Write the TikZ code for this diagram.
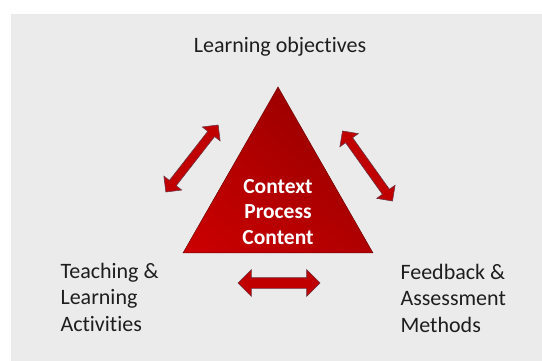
\documentclass[tikz,border=0pt]{standalone}
\usepackage{fontspec}
\setmainfont{Carlito}[Ligatures=CommonOff]
\usetikzlibrary{shapes.arrows,shadings}
\definecolor{bgGrey}{HTML}{EBEBEB}
\definecolor{darkRed}{HTML}{8C0000}
\definecolor{midRed}{HTML}{B00000}
\definecolor{brightRed}{HTML}{CC0000}
\definecolor{arrowRed}{HTML}{C00000}
\definecolor{arrowEdge}{HTML}{6E3445}
\definecolor{textGrey}{HTML}{1E1E1E}

\begin{document}
\begin{tikzpicture}[x=1pt,y=-1pt]

      \tikzset{dblarrow/.style={double arrow, draw=arrowEdge, fill=arrowRed, line width=0.6pt, inner xsep=0pt,
                 inner ysep=4pt, double arrow head extend=7pt, minimum height=85pt},
               cornertext/.style={align=left, anchor=west, text=textGrey, font=\fontsize{22}{26.5}\selectfont}}
% Background
	\useasboundingbox (0,0) rectangle (542,361);
	\fill[bgGrey] (11,14) rectangle (542,361);
% Triangle
	\coordinate (apex) at (278,87);
	\coordinate (baseL) at (183,253);
	\coordinate (baseR) at (373,253);
	\shade[upper left=midRed, upper right=darkRed, lower left=brightRed, lower right=midRed]
		(apex) -- (baseL) -- (baseR) -- cycle;
	\draw[darkRed!80!black, line width=0.5pt] (apex) -- (baseL) -- (baseR) -- cycle;
	\node[align=center, text=white, font=\bfseries\fontsize{21.5}{25.5}\selectfont] (core) at (278,212) {Context\\Process\\Content};
% Labels
	\node[text=textGrey, font=\fontsize{22}{26.5}\selectfont] (objectives) at (280,47) {Learning objectives};
	\node[cornertext] (activities) at (57,297) {Teaching \&\\Learning\\Activities};
	\node[cornertext] (feedback) at (397,298) {Feedback \&\\Assessment\\Methods};
% Arrows
	\node[dblarrow, rotate=52] (leftArrow) at (192,158.5) {};
	\node[dblarrow, rotate=-54.5, minimum height=86pt] (rightArrow) at (367.5,166) {};
	\node[dblarrow, inner ysep=5pt, double arrow head extend=8pt, minimum height=82pt] (bottomArrow) at (279,283) {};

\end{tikzpicture}
\end{document}
